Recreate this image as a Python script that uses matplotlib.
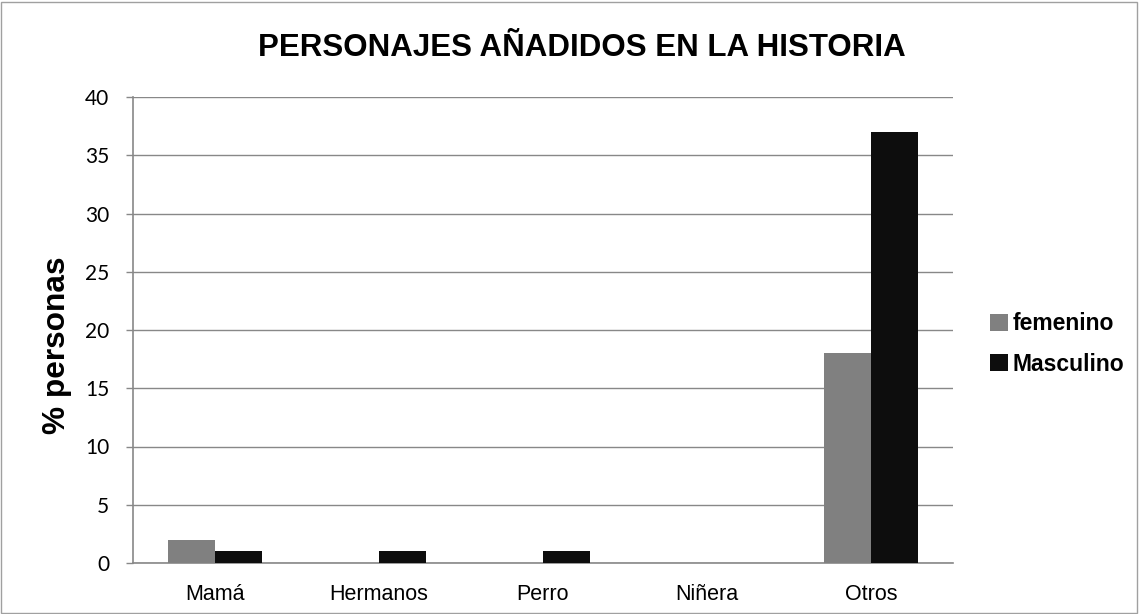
import matplotlib
matplotlib.use("Agg")
import matplotlib.pyplot as plt
import numpy as np
from matplotlib.patches import Rectangle

categories = ["Mamá", "Hermanos", "Perro", "Niñera", "Otros"]
femenino = [2, 0, 0, 0, 18]
masculino = [1, 1, 1, 0, 37]
yticks = [0, 5, 10, 15, 20, 25, 30, 35, 40]

plt.rcParams['font.family'] = ['Liberation Sans', 'DejaVu Sans']

W, H = 1139, 614
fig = plt.figure(figsize=(W/100, H/100), dpi=100)
ax = fig.add_axes([133/W, 1-563/H, (953-133)/W, (563-97)/H])

x = np.arange(len(categories))
bw = 1/3.5
ax.bar(x - bw/2, femenino, width=bw, color="#808080", label="femenino", zorder=3)
ax.bar(x + bw/2, masculino, width=bw, color="#0d0d0d", label="Masculino", zorder=3)

ax.set_xlim(-0.5, len(categories) - 0.5)
ax.set_ylim(0, 40)
ax.set_yticks(yticks)
ax.set_xticks(x)
ax.set_xticklabels(categories, fontsize=15.5)
ax.tick_params(axis='y', labelsize=15, length=5, color="#888888", width=1, pad=12)
for lbl in ax.get_yticklabels():
    lbl.set_family(['Lato', 'DejaVu Sans'])
ax.tick_params(axis='x', length=0, pad=15)
ax.yaxis.grid(True, color="#888888", linewidth=1, zorder=0)
for s in ["top", "right"]:
    ax.spines[s].set_visible(False)
for s in ["left", "bottom"]:
    ax.spines[s].set_color("#888888")
    ax.spines[s].set_linewidth(1.2)

fig.text(57/W, 1-345/H, "% personas", fontsize=22.8, fontweight="bold",
         rotation=90, ha="center", va="center")
fig.text(582/W, 1-48/H, "PERSONAJES AÑADIDOS EN LA HISTORIA", fontsize=22.5,
         fontweight="bold", ha="center", va="center")

leg = fig.legend(loc="center left", bbox_to_anchor=(990/W, 1-344/H), frameon=False,
                 prop={'size': 16.5, 'weight': 'bold'}, handlelength=0.8, handleheight=0.8,
                 handletextpad=0.2, labelspacing=0.75, borderpad=0, borderaxespad=0)

fig.patches.append(Rectangle((1/W, 1/H), 1-3/W, 1-3/H, transform=fig.transFigure,
                             fill=False, edgecolor="#a0a0a0", linewidth=1))

fig.savefig("out.png", dpi=100)
